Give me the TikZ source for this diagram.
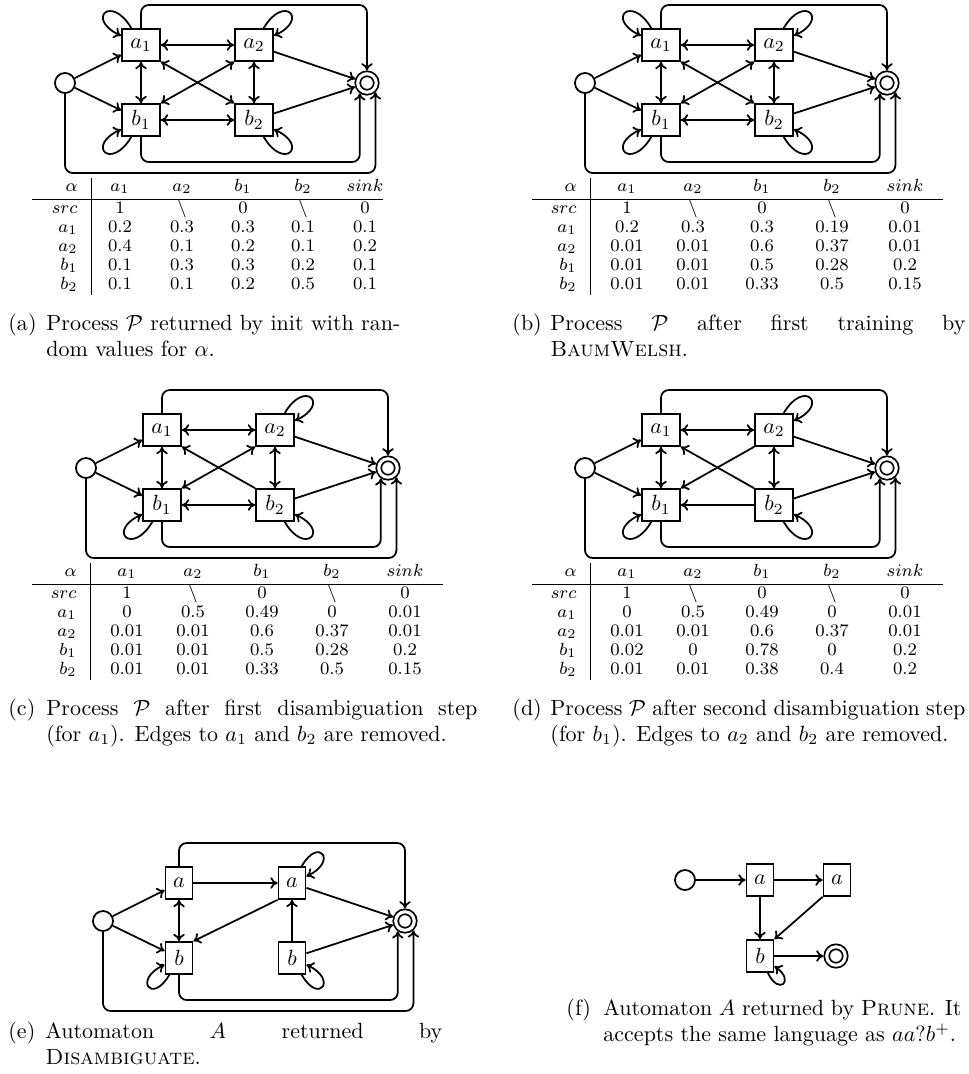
\documentclass[tikz,border=0pt]{standalone}
\usetikzlibrary{arrows.meta}
\tikzset{
  st/.style={draw, thick, minimum width=17.3pt, minimum height=14.5pt, inner sep=0pt},
  sn/.style={st, minimum width=12.3pt},
  ini/.style={draw, thick, circle, minimum size=9.1pt, inner sep=0pt},
  fin/.style={draw, thick, circle, double, double distance=1.4pt, minimum size=8.4pt, inner sep=0pt, outer sep=1.5pt},
  tip/.tip={To[length=3.3pt, width=5.2pt]},
  ed/.style={thick, -tip},
  be/.style={thick, tip-tip},
  lp/.style={thick, -tip, looseness=8},
  rl/.style={thick, -tip, rounded corners=3.5pt},
  cell/.style={font=\footnotesize, anchor=base, inner sep=0pt},
  lab/.style={anchor=base west, inner sep=0pt},
  rule/.style={line width=0.4pt},
}
\newcommand\nodesG[6]{%
  \node[ini] (#1src) at (65,-83) {};
  \node[#2] (#1a1) at (141,-45) {#3};
  \node[#2] (#1a2) at (254,-45) {#4};
  \node[#2] (#1b1) at (141,-120) {#5};
  \node[#2] (#1b2) at (254,-120) {#6};
  \node[fin] (#1sink) at (367,-83) {};
  \draw[ed] (#1src) -- (#1a1);
  \draw[ed] (#1src) -- (#1b1);
  \draw[ed] (#1a2) -- (#1sink);
  \draw[ed] (#1b2) -- (#1sink);
  \draw[rl] (#1a1.north) |- (#1sink.north |- 0,-5) -- (#1sink.north);
  \draw[rl] (#1b1.south) |- (#1sink.235 |- 0,-162) -- (#1sink.235);
  \draw[rl] (#1src.south) |- (#1sink.312 |- 0,-173) -- (#1sink.312);
}
\newcommand\loopsG[1]{%
  \draw[lp] (#1a2) to[out=60, in=25] (#1a2);
  \draw[lp] (#1b1) to[out=240, in=205] (#1b1);
  \draw[lp] (#1b2) to[out=300, in=335] (#1b2);
}
\newcommand\trow[8]{%
  \node[cell, anchor=base east] (#1l) at (\lx,#2) {#3};
  \node[cell] (#1a) at (\ca,#2) {#4};
  \node[cell] (#1b) at (\cb,#2) {#5};
  \node[cell] (#1c) at (\cc,#2) {#6};
  \node[cell] (#1d) at (\cd,#2) {#7};
  \node[cell] (#1e) at (\ce,#2) {#8};
}
\newcommand\bs{$\backslash$}
\newcommand\thead[1]{\trow{#1h}{-191}{$\alpha$}{$a_1$}{$a_2$}{$b_1$}{$b_2$}{$sink$}}
\begin{document}
\begin{tikzpicture}[x=0.4545pt, y=0.4545pt]
\useasboundingbox (0,0) rectangle (969,-1074);

% ---------- (a) ----------
\nodesG{A}{st}{$a_1$}{$a_2$}{$b_1$}{$b_2$}
\draw[lp] (Aa1) to[out=120, in=155] (Aa1);
\loopsG{A}
\draw[be] (Aa1) -- (Aa2);
\draw[be] (Aa1) -- (Ab1);
\draw[be] (Aa1.south east) -- (Ab2.north west);
\draw[be] (Aa2.south west) -- (Ab1.north east);
\draw[be] (Aa2) -- (Ab2);
\draw[be] (Ab1) -- (Ab2);

% ---------- (b) ----------
\begin{scope}[shift={(520,0)}]
\nodesG{B}{st}{$a_1$}{$a_2$}{$b_1$}{$b_2$}
\draw[lp] (Ba1) to[out=120, in=155] (Ba1);
\loopsG{B}
\draw[be] (Ba1) -- (Ba2);
\draw[be] (Ba1) -- (Bb1);
\draw[be] (Ba1.south east) -- (Bb2.north west);
\draw[be] (Ba2.south west) -- (Bb1.north east);
\draw[be] (Ba2) -- (Bb2);
\draw[be] (Bb1) -- (Bb2);
\end{scope}

% ---------- (c) ----------
\begin{scope}[shift={(21,-385)}]
\nodesG{C}{st}{$a_1$}{$a_2$}{$b_1$}{$b_2$}
\loopsG{C}
\draw[be] (Ca1) -- (Ca2);
\draw[be] (Ca1) -- (Cb1);
\draw[ed] (Cb2.north west) -- (Ca1.south east);
\draw[be] (Ca2.south west) -- (Cb1.north east);
\draw[be] (Ca2) -- (Cb2);
\draw[be] (Cb1) -- (Cb2);
\end{scope}

% ---------- (d) ----------
\begin{scope}[shift={(520,-385)}]
\nodesG{D}{st}{$a_1$}{$a_2$}{$b_1$}{$b_2$}
\loopsG{D}
\draw[be] (Da1) -- (Da2);
\draw[be] (Da1) -- (Db1);
\draw[ed] (Db2.north west) -- (Da1.south east);
\draw[ed] (Da2.south west) -- (Db1.north east);
\draw[be] (Da2) -- (Db2);
\draw[ed] (Db2) -- (Db1);
\end{scope}

% ---------- (e) ----------
\begin{scope}[shift={(38,-838)}]
\nodesG{E}{sn}{$a$}{$a$}{$b$}{$b$}
\loopsG{E}
\draw[ed] (Ea1) -- (Ea2);
\draw[be] (Ea1) -- (Eb1);
\draw[ed] (Ea2.south west) -- (Eb1.north east);
\draw[ed] (Eb2) -- (Ea2);
\end{scope}

% ---------- (f) ----------
\node[ini] (Fsrc) at (685,-880) {};
\node[sn] (Fa1) at (760,-880) {$a$};
\node[sn] (Fa2) at (837,-880) {$a$};
\node[sn] (Fb) at (760,-956) {$b$};
\node[fin] (Fsink) at (836,-956) {};
\draw[ed] (Fsrc) -- (Fa1);
\draw[ed] (Fa1) -- (Fa2);
\draw[ed] (Fa1) -- (Fb);
\draw[ed] (Fa2.south west) -- (Fb.north east);
\draw[ed] (Fb) -- (Fsink);
\draw[lp, looseness=7] (Fb) to[out=295, in=325] (Fb);

% ---------- tables ----------
% (a)
\def\lx{78}\def\ca{120}\def\cb{182}\def\cc{243}\def\cd{303}\def\ce{365}
\thead{TA}
\trow{TAs}{-213}{$src$}{1}{\bs}{0}{\bs}{0}
\trow{TAa}{-232}{$a_1$}{0.2}{0.3}{0.3}{0.1}{0.1}
\trow{TAb}{-251}{$a_2$}{0.4}{0.1}{0.2}{0.1}{0.2}
\trow{TAc}{-270}{$b_1$}{0.1}{0.3}{0.3}{0.2}{0.1}
\trow{TAd}{-289}{$b_2$}{0.1}{0.1}{0.2}{0.5}{0.1}
\draw[rule] (32,-199) -- (383,-199);
\draw[rule] (91,-178) -- (91,-295);

% (b), (c), (d)
\def\lx{577}\def\ca{627}\def\cb{693}\def\cc{762}\def\cd{832}\def\ce{905}
\thead{TB}
\trow{TBs}{-213}{$src$}{1}{\bs}{0}{\bs}{0}
\trow{TBa}{-232}{$a_1$}{0.2}{0.3}{0.3}{0.19}{0.01}
\trow{TBb}{-251}{$a_2$}{0.01}{0.01}{0.6}{0.37}{0.01}
\trow{TBc}{-270}{$b_1$}{0.01}{0.01}{0.5}{0.28}{0.2}
\trow{TBd}{-289}{$b_2$}{0.01}{0.01}{0.33}{0.5}{0.15}
\draw[rule] (532,-199) -- (943,-199);
\draw[rule] (590,-178) -- (590,-295);

\begin{scope}[shift={(-500,-385)}]
\thead{TC}
\trow{TCs}{-213}{$src$}{1}{\bs}{0}{\bs}{0}
\trow{TCa}{-232}{$a_1$}{0}{0.5}{0.49}{0}{0.01}
\trow{TCb}{-251}{$a_2$}{0.01}{0.01}{0.6}{0.37}{0.01}
\trow{TCc}{-270}{$b_1$}{0.01}{0.01}{0.5}{0.28}{0.2}
\trow{TCd}{-289}{$b_2$}{0.01}{0.01}{0.33}{0.5}{0.15}
\draw[rule] (532,-199) -- (943,-199);
\draw[rule] (590,-178) -- (590,-295);
\end{scope}

\begin{scope}[shift={(0,-385)}]
\thead{TD}
\trow{TDs}{-213}{$src$}{1}{\bs}{0}{\bs}{0}
\trow{TDa}{-232}{$a_1$}{0}{0.5}{0.49}{0}{0.01}
\trow{TDb}{-251}{$a_2$}{0.01}{0.01}{0.6}{0.37}{0.01}
\trow{TDc}{-270}{$b_1$}{0.02}{0}{0.78}{0}{0.2}
\trow{TDd}{-289}{$b_2$}{0.01}{0.01}{0.38}{0.4}{0.2}
\draw[rule] (532,-199) -- (943,-199);
\draw[rule] (590,-178) -- (590,-295);
\end{scope}

% ---------- captions ----------
\node[lab] (la) at (8,-330) {(a)};
\node[lab] (ca) at (46,-330) {\parbox[t]{160.9pt}{Process $\mathcal{P}$ returned by init with ran-\linebreak dom values for $\alpha$.}};
\node[lab] (lb) at (512,-330) {(b)};
\node[lab] (cb) at (550,-330) {\parbox[t]{188.6pt}{Process $\mathcal{P}$ after first training by\linebreak \textsc{BaumWelsh}.}};
\node[lab] (lc) at (8,-715) {(c)};
\node[lab] (cc) at (46,-715) {\parbox[t]{195.9pt}{Process $\mathcal{P}$ after first disambiguation step\linebreak (for $a_1$). Edges to $a_1$ and $b_2$ are removed.}};
\node[lab] (ld) at (512,-715) {(d)};
\node[lab] (cd) at (550,-715) {\parbox[t]{188.6pt}{Process $\mathcal{P}$ after second disambiguation step\linebreak (for $b_1$). Edges to $a_2$ and $b_2$ are removed.}};
\node[lab] (le) at (8,-1038) {(e)};
\node[lab] (ce) at (45,-1038) {\parbox[t]{180.4pt}{Automaton $A$ returned by\linebreak \textsc{Disambiguate}.}};
\node[lab] (lf) at (566,-1015) {(f)};
\node[lab] (cf) at (603,-1015) {\parbox[t]{162.7pt}{Automaton $A$ returned by \textsc{Prune}. It\linebreak accepts the same language as $aa?b^{+}$.}};
\end{tikzpicture}
\end{document}
